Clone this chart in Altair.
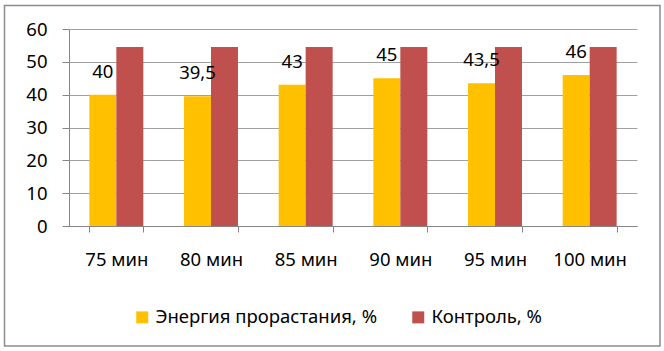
import altair as alt
import pandas as pd

categories = ["75 мин", "80 мин", "85 мин", "90 мин", "95 мин", "100 мин"]
energy = [40, 39.5, 43, 45, 43.5, 46]
control = [54.5, 54.5, 54.5, 54.5, 54.5, 54.5]
energy_labels = ["40", "39,5", "43", "45", "43,5", "46"]
series_names = ["Энергия прорастания, %", "Контроль, %"]
colors = ["#FFC000", "#C0504D"]

rows = []
for c, e, lab in zip(categories, energy, energy_labels):
    rows.append({"cat": c, "series": series_names[0], "value": e, "label": lab})
for c, v in zip(categories, control):
    rows.append({"cat": c, "series": series_names[1], "value": v, "label": ""})
df = pd.DataFrame(rows)

FONT = "Noto Sans"
FS = 18.5
W, H = 568, 197

xaxis = alt.Axis(labelAngle=0, labelFontSize=FS, labelColor="#000000",
                 labelFont=FONT, labelPadding=18, tickBand="extent",
                 tickSize=6, tickColor="#868686", domainColor="#868686",
                 grid=False, labelOverlap=False)
yaxis = alt.Axis(values=[0, 10, 20, 30, 40, 50, 60], labelFontSize=FS,
                 labelFont=FONT, labelColor="#000000", labelPadding=15,
                 tickSize=7, tickColor="#868686", domainColor="#868686",
                 gridColor="#A0A0A0", gridWidth=1, labelOverlap=False)
xscale = alt.Scale(paddingInner=0.43, paddingOuter=0.215)
yscale = alt.Scale(domain=[0, 60])

bars = alt.Chart(df).mark_bar().encode(
    x=alt.X("cat:N", sort=categories, title=None, scale=xscale, axis=xaxis),
    y=alt.Y("value:Q", title=None, scale=yscale, axis=yaxis),
    xOffset=alt.XOffset("series:N", sort=series_names),
    color=alt.Color("series:N", sort=series_names,
                    scale=alt.Scale(domain=series_names, range=colors),
                    legend=alt.Legend(title=None, orient="none", direction="horizontal",
                                      legendX=64, legendY=279, symbolType="square",
                                      symbolSize=144, symbolStrokeWidth=0,
                                      labelFontSize=FS, labelFont=FONT,
                                      labelColor="#000000", columnPadding=31,
                                      labelOffset=4, labelLimit=0, symbolOpacity=1)),
)

labels = alt.Chart(df[df["label"] != ""]).mark_text(
    fontSize=18.5, font=FONT, baseline="middle", dy=-23, color="#000000"
).encode(
    x=alt.X("cat:N", sort=categories, title=None, scale=xscale, axis=xaxis),
    xOffset=alt.XOffset("series:N", sort=series_names, scale=alt.Scale(domain=series_names)),
    y=alt.Y("value:Q", title=None, scale=yscale, axis=yaxis),
    text="label:N",
)

frame = alt.Chart(pd.DataFrame({"a": [0]})).mark_rect(
    fill=None, stroke="#8C8C8C", strokeWidth=1.5
).encode(
    x=alt.value(-64.5), x2=alt.value(660 - 69),
    y=alt.value(-23.5), y2=alt.value(346 - 29),
)

chart = alt.layer(frame, bars, labels).properties(
    width=W, height=H,
    padding={"left": 69, "top": 29, "right": 27, "bottom": 125},
    autosize=alt.AutoSizeParams(type="none"),
    background="#FFFFFF",
).configure_view(stroke=None)

chart.save("out.html", embed_options={"renderer": "svg", "actions": False})
